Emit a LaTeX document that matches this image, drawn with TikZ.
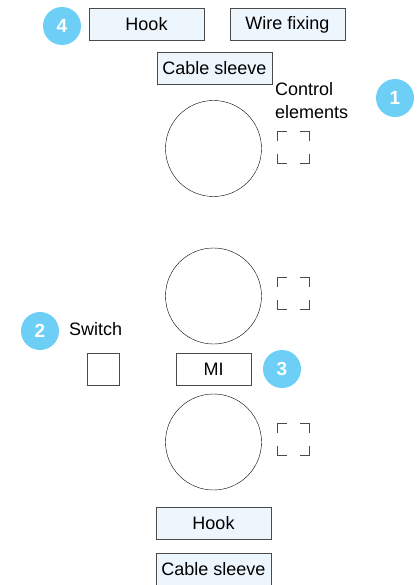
\documentclass[tikz,border=0pt]{standalone}
\usepackage{fontspec}
\setmainfont{Liberation Sans}
\usetikzlibrary{positioning}
\definecolor{badgeblue}{HTML}{6DCFF6}
\definecolor{boxfill}{HTML}{EEF6FD}
\definecolor{boxline}{HTML}{4A4A4A}

\begin{document}
\begin{tikzpicture}[
	x=1pt, y=-1pt,
	every node/.style={font=\fontsize{18}{23}\selectfont},
	part/.style={draw=boxline, fill=boxfill, minimum width=115pt, minimum height=32pt, inner sep=0pt},
	plain/.style={draw=boxline, fill=white, minimum height=32pt, inner sep=0pt},
	badge/.style={circle, fill=badgeblue, text=white, minimum size=38pt, inner sep=0pt, font=\fontsize{19}{19}\selectfont\bfseries},
	wheel/.style={circle, draw, minimum size=96pt, inner sep=0pt},
	ctrl/.style={draw=boxline, minimum size=32pt, inner sep=0pt, dash pattern=on 19pt off 13pt, dash phase=9.5pt}
	]
	\useasboundingbox (0,0) rectangle (418,585);
	
	% top parts
	\node[part] (hookT) at (146.5,24.5) {Hook};
	\node[part] (wire) at (287.5,24.5) {Wire fixing};
	\node[part] (sleeveT) at (214.5,68.5) {Cable sleeve};
	
	% wheels and control elements
	\node[wheel] (w1) at (213.5,148.5) {};
	\node[wheel] (w2) at (213.5,296) {};
	\node[wheel] (w3) at (213.5,442) {};
	\node[ctrl] (c1) at (293,147.5) {};
	\node[ctrl] (c2) at (293,293) {};
	\node[ctrl] (c3) at (293,439) {};
	\node[anchor=west, align=left, inner sep=0pt] (ctrlLbl) at (275,101) {Control\\elements};
	
	% switch and MI
	\node[anchor=west, inner sep=0pt] (swLbl) at (69,329) {Switch};
	\node[plain, minimum width=32pt] (sw) at (103,369) {};
	\node[plain, minimum width=75pt] (mi) at (213.5,369) {MI};
	
	% bottom parts
	\node[part] (hookB) at (213.5,523) {Hook};
	\node[part] (sleeveB) at (213.5,569.5) {Cable sleeve};
	
	% numbered badges
	\node[badge] (b1) at (395,98) {1};
	\node[badge] (b2) at (40,331) {2};
	\node[badge] (b3) at (282,369) {3};
	\node[badge] (b4) at (62,26) {4};
	
\end{tikzpicture}
\end{document}
